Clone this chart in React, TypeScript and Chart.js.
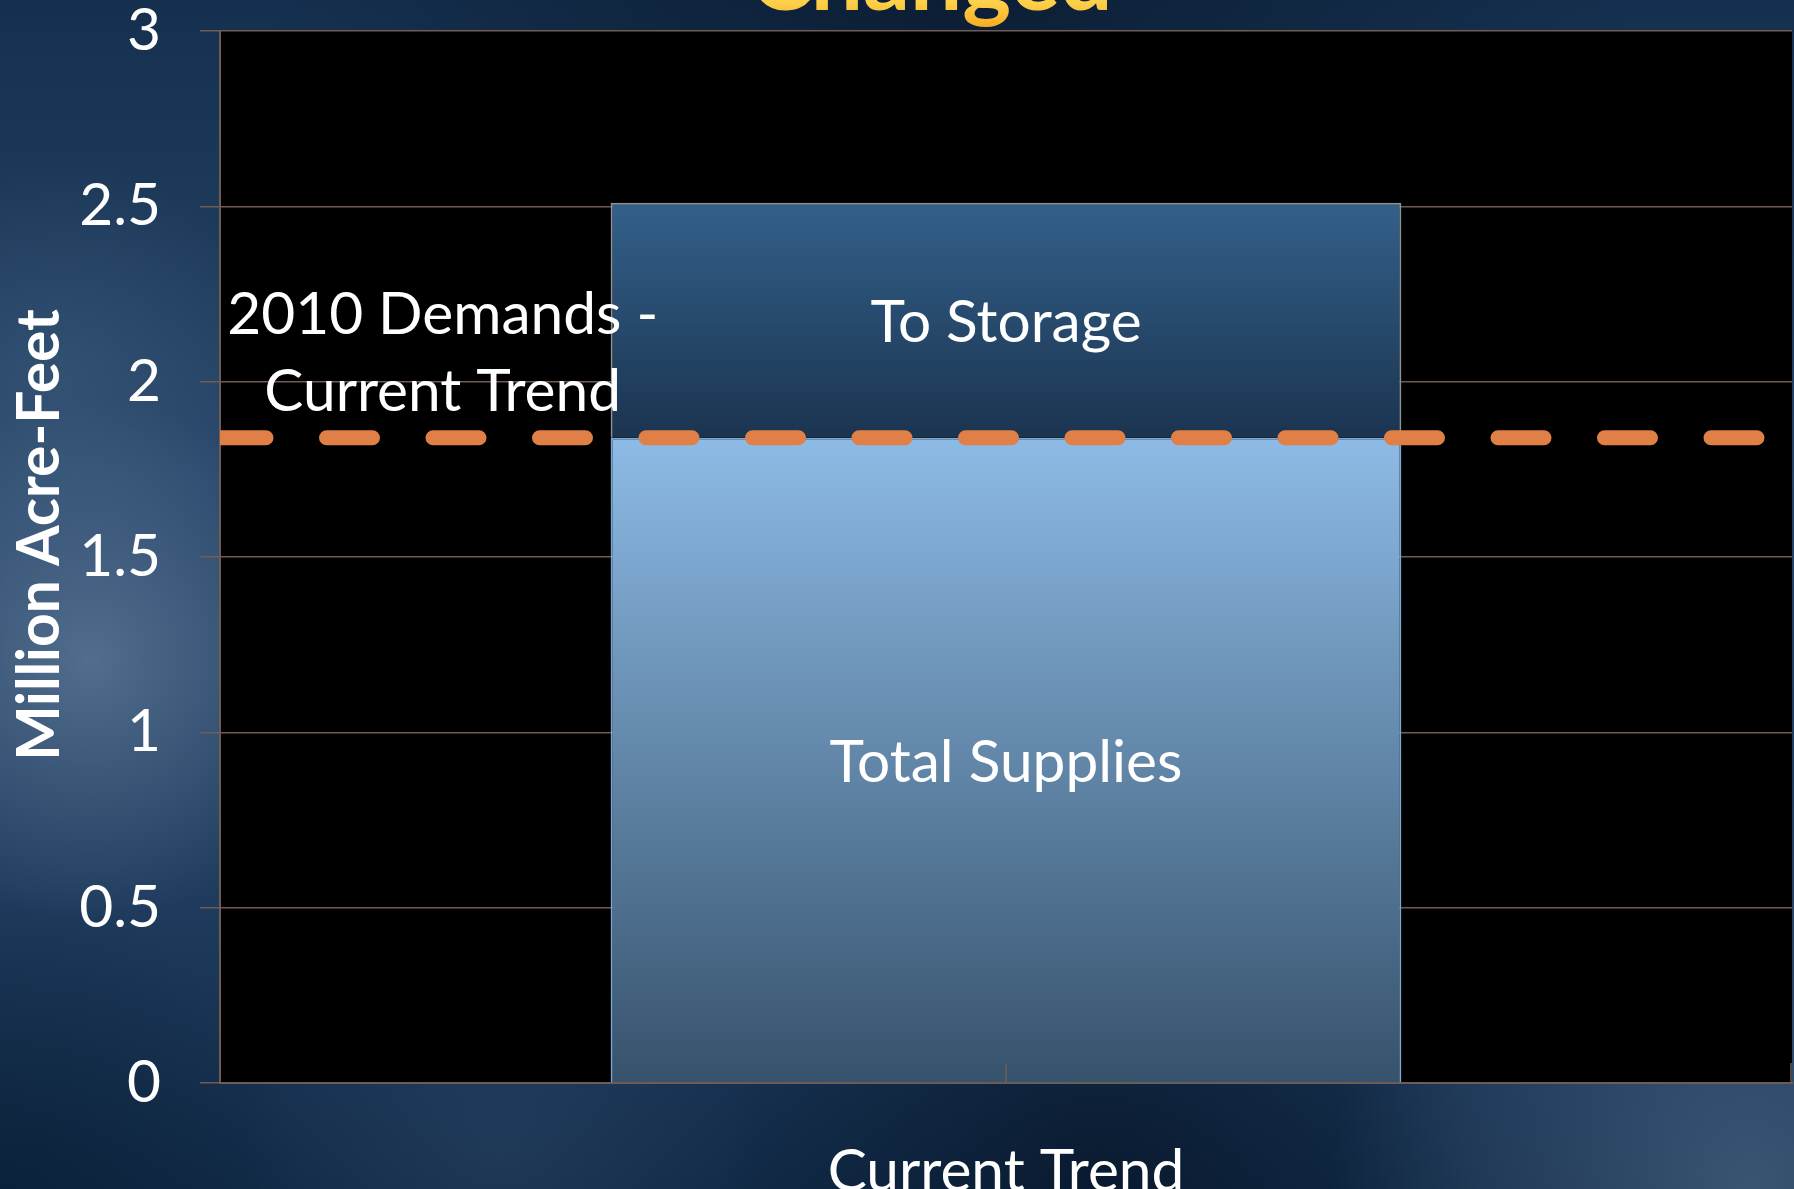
import React, { useEffect, useRef } from 'react';
import { Chart, registerables } from 'chart.js';

Chart.register(...registerables);

// ---- data ----
const categories = ['Current Trend'];
const seriesNames = ['Total Supplies', 'To Storage'];
const totalSupplies = [1.84];
const toStorage = [0.67];
const demandSpan = [0, 1];
const demandValues = [1.84, 1.84];
const demandLabel = ['2010 Demands -', 'Current Trend'];
const yAxisTitle = 'Million Acre-Feet';
const slideTitle = 'Changed';
const yMin = 0;
const yMax = 3;
const yStep = 0.5;

// ---- style ----
const W = 1794;
const H = 1189;
const FONT = 'Lato, "Open Sans", sans-serif';
const BROWN = '#6e5c55';

export default function App() {
  const ref = useRef<HTMLCanvasElement>(null);

  useEffect(() => {
    const canvas = ref.current;
    if (!canvas) return;
    const m = document.createElement('canvas').getContext('2d')!;
    const fit = (t: string, target: number, weight: string) => {
      m.font = `${weight} 100px ${FONT}`;
      return Math.round((1000 * target) / m.measureText(t).width) / 10;
    };
    const fs = fit('Current Trend', 357, 'normal');
    const fsBold = fit(yAxisTitle, 452, 'bold');
    const fsTitle = fit(slideTitle, 363, 'bold');

    const bgPlugin = {
      id: 'bg',
      beforeDraw(chart: any) {
        const { ctx, chartArea: a, width, height } = chart;
        ctx.save();
        const lg = ctx.createLinearGradient(0, 0, 0, height);
        lg.addColorStop(0, '#15304f');
        lg.addColorStop(0.4, '#27466a');
        lg.addColorStop(0.75, '#1f3c5e');
        lg.addColorStop(1, '#112a47');
        ctx.fillStyle = lg;
        ctx.fillRect(0, 0, width, height);
        const blob = (x: number, y: number, r: number, rgb: string, al: number) => {
          const g = ctx.createRadialGradient(x, y, 0, x, y, r);
          g.addColorStop(0, `rgba(${rgb},${al})`);
          g.addColorStop(1, `rgba(${rgb},0)`);
          ctx.fillStyle = g;
          ctx.fillRect(0, 0, width, height);
        };
        blob(90, 660, 260, '120,145,175', 0.55);
        blob(60, 380, 220, '80,110,140', 0.35);
        blob(950, 0, 700, '5,18,35', 0.6);
        blob(1100, 1189, 380, '5,18,35', 0.65);
        blob(1750, 1189, 420, '90,120,150', 0.55);
        blob(0, 1189, 300, '5,25,45', 0.5);
        blob(500, 1140, 260, '60,90,120', 0.3);
        ctx.fillStyle = '#000';
        ctx.fillRect(a.left, a.top, a.right - a.left, a.bottom - a.top);
        ctx.restore();
      },
    };

    const labelPlugin = {
      id: 'labels',
      afterDatasetsDraw(chart: any) {
        const { ctx, chartArea: a } = chart;
        ctx.save();
        ctx.fillStyle = '#ffffff';
        ctx.font = `${fs}px ${FONT}`;
        ctx.textAlign = 'center';
        ctx.textBaseline = 'middle';
        [0, 1].forEach((i) => {
          const meta = chart.getDatasetMeta(i);
          meta.data.forEach((el: any) => {
            ctx.fillText(seriesNames[i], el.x, (el.y + el.base) / 2 + 3);
          });
        });
        const lp = chart.getDatasetMeta(2).data[0];
        const bar = chart.getDatasetMeta(0).data[0];
        const barLeft = bar.x - bar.width / 2;
        const cx = a.left + (barLeft - a.left) * 0.57;
        ctx.fillText(demandLabel[0], cx, lp.y - 123);
        ctx.fillText(demandLabel[1], cx, lp.y - 46);
        ctx.restore();
      },
      afterDraw(chart: any) {
        const { ctx, chartArea: a, scales } = chart;
        ctx.save();
        // inward category tick marks
        ctx.strokeStyle = BROWN;
        ctx.lineWidth = 1.5;
        [scales.x.getPixelForValue(0), a.right - 1].forEach((px: number) => {
          ctx.beginPath();
          ctx.moveTo(px, a.bottom);
          ctx.lineTo(px, a.bottom - 20);
          ctx.stroke();
        });
        // y axis title
        ctx.fillStyle = '#ffffff';
        ctx.font = `bold ${fsBold}px ${FONT}`;
        ctx.textAlign = 'center';
        ctx.textBaseline = 'middle';
        ctx.translate(40, (a.top + a.bottom) / 2 - 22);
        ctx.rotate(-Math.PI / 2);
        ctx.fillText(yAxisTitle, 0, 0);
        ctx.restore();
        // slide title, cut off at the top
        ctx.save();
        const g = ctx.createLinearGradient(0, -60, 0, 30);
        g.addColorStop(0, '#ffe27a');
        g.addColorStop(0.7, '#fdd04a');
        g.addColorStop(1, '#f5a81c');
        ctx.fillStyle = g;
        ctx.font = `bold ${fsTitle}px ${FONT}`;
        ctx.textAlign = 'center';
        ctx.textBaseline = 'alphabetic';
        ctx.fillText(slideTitle, (a.left + a.right) / 2 - 75, 10);
        ctx.restore();
      },
    };

    const valueGradient = (top: number, bottom: number, c1: string, c2: string) => (c: any) => {
      const chart = c.chart;
      if (!chart.chartArea) return c1;
      const y = chart.scales.y;
      const g = chart.ctx.createLinearGradient(0, y.getPixelForValue(top), 0, y.getPixelForValue(bottom));
      g.addColorStop(0, c1);
      g.addColorStop(1, c2);
      return g;
    };

    const chart = new Chart(canvas, {
      type: 'bar',
      data: {
        labels: categories,
        datasets: [
          {
            label: seriesNames[0],
            data: totalSupplies,
            backgroundColor: valueGradient(totalSupplies[0], 0, '#8dbbe5', '#36526c'),
            borderColor: '#7ea8d2',
            borderWidth: 2,
            barPercentage: 0.503,
            categoryPercentage: 1,
            grouped: false,
            order: 1,
          },
          {
            label: seriesNames[1],
            data: toStorage,
            backgroundColor: valueGradient(totalSupplies[0] + toStorage[0], totalSupplies[0], '#33608a', '#1b3450'),
            borderColor: '#8c9298',
            borderWidth: 2,
            barPercentage: 0.503,
            categoryPercentage: 1,
            grouped: false,
            order: 2,
          },
          {
            type: 'line',
            label: demandLabel.join(' '),
            xAxisID: 'x2',
            data: demandSpan.map((x, i) => ({ x, y: demandValues[i] })),
            borderColor: '#e07f46',
            borderWidth: 15,
            borderDash: [46, 60.5],
            borderCapStyle: 'round',
            pointRadius: 0,
            fill: false,
            clip: 0,
            order: 0,
          } as any,
        ],
      },
      options: {
        animation: false,
        responsive: false,
        layout: { padding: { top: 31, right: 2, left: 0, bottom: 0 } },
        plugins: {
          legend: { display: false },
          tooltip: { enabled: false },
        },
        scales: {
          x: {
            type: 'category',
            stacked: true,
            offset: true,
            grid: { display: false },
            border: { display: true, color: BROWN, width: 2 },
            ticks: { color: '#ffffff', font: { family: FONT, size: fs, lineHeight: 1 }, padding: 52 },
            afterFit: (s: any) => {
              s.height = 106;
            },
          },
          x2: {
            type: 'linear',
            position: 'top',
            display: true,
            offset: false,
            min: 0,
            max: 1,
            grid: { display: false, offset: false },
            border: { display: false },
            ticks: { display: false },
            afterFit: (s: any) => {
              s.height = 0;
              s.paddingLeft = 0;
              s.paddingRight = 0;
            },
          },
          y: {
            stacked: true,
            min: yMin,
            max: yMax,
            ticks: {
              stepSize: yStep,
              color: '#ffffff',
              font: { family: FONT, size: fs, lineHeight: 1 },
              padding: 39,
              callback: (v: any) => `${v}`,
            },
            grid: { color: BROWN, lineWidth: 1.5, tickLength: 20 },
            border: { display: true, color: BROWN, width: 2 },
            afterFit: (s: any) => {
              s.width = 220;
              s.paddingTop = 0;
              s.paddingBottom = 0;
            },
          },
        },
      },
      plugins: [bgPlugin, labelPlugin],
    });
    return () => chart.destroy();
  }, []);

  return (
    <div style={{ position: 'absolute', left: 0, top: 0, width: W, height: H }}>
      <canvas ref={ref} width={W} height={H} style={{ display: 'block', width: W, height: H }} />
    </div>
  );
}
